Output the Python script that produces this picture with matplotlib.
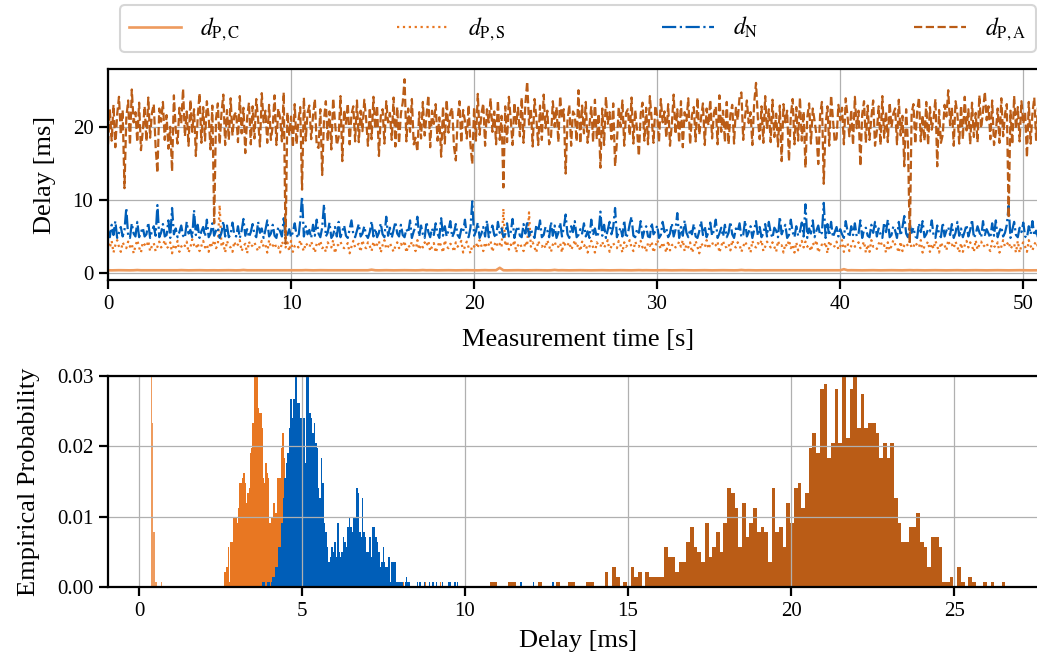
import numpy as np
import matplotlib
matplotlib.use("Agg")
import matplotlib.pyplot as plt

plt.rcParams.update({
    "font.family": "serif",
    "font.serif": ["Liberation Serif", "DejaVu Serif"],
    "mathtext.fontset": "stix",
    "font.size": 15,
})

# ---------------------------------------------------------------- time series
SAMPLE_STEP = 0.1  # s between samples of d_pa, d_n, d_ps
PC_STEP = 0.2      # s between samples of d_pc

d_pa = [
    17.6, 22.4, 18.1, 23.0, 17.2, 21.7, 24.1, 18.9, 22.3, 11.6,
    21.2, 23.6, 17.5, 25.1, 20.6, 22.0, 17.9, 23.3, 16.8, 19.4,
    22.8, 18.0, 24.0, 18.5, 21.9, 23.1, 17.3, 13.7, 22.5, 20.7,
    23.4, 18.2, 21.6, 17.0, 20.0, 13.9, 24.3, 19.6, 17.7, 22.6,
    20.4, 25.2, 18.7, 22.1, 17.4, 23.7, 19.3, 22.4, 16.0, 21.3,
    24.6, 17.8, 22.7, 18.1, 23.5, 21.4, 16.9, 22.9, 6.8, 21.1,
    23.2, 17.6, 21.9, 24.4, 17.5, 22.3, 18.2, 23.9, 18.8, 21.6,
    22.0, 17.9, 24.2, 19.1, 22.6, 16.4, 21.2, 23.3, 17.6, 22.8,
    18.4, 23.8, 21.0, 17.3, 24.6, 20.6, 22.2, 17.8, 23.0, 18.2,
    20.1, 24.3, 17.5, 22.5, 21.3, 18.0, 24.7, 4.0, 22.0, 18.9,
    21.4, 17.2, 23.1, 17.6, 20.8, 22.7, 11.4, 24.0, 18.1, 21.9,
    22.9, 18.3, 21.5, 23.8, 17.4, 17.1, 22.4, 13.4, 21.0, 23.5,
    18.0, 22.1, 16.9, 23.9, 20.7, 17.5, 18.6, 24.2, 15.3, 22.3,
    20.4, 23.2, 17.6, 21.7, 22.8, 18.0, 23.6, 17.9, 22.2, 19.4,
    23.7, 21.1, 17.4, 22.6, 18.3, 24.1, 19.7, 22.9, 16.0, 21.5,
    22.4, 17.7, 23.5, 20.6, 21.9, 18.2, 24.0, 17.3, 22.7, 17.7,
    21.8, 23.3, 26.5, 18.0, 22.5, 19.3, 23.8, 17.6, 18.5, 16.6,
    22.0, 18.4, 23.4, 18.8, 21.6, 24.3, 17.2, 22.2, 20.4, 23.1,
    18.1, 21.3, 15.9, 22.8, 17.7, 23.7, 19.2, 21.9, 22.6, 17.3,
    15.4, 21.1, 23.5, 17.8, 22.3, 20.8, 18.4, 23.0, 17.5, 14.9,
    22.7, 18.1, 24.5, 18.9, 21.8, 23.2, 17.4, 22.4, 20.6, 23.9,
    19.3, 22.1, 17.6, 23.6, 18.2, 21.5, 11.7, 22.8, 17.9, 24.1,
    21.0, 17.5, 23.3, 20.4, 22.6, 18.7, 24.0, 17.8, 23.1, 26.2,
    20.3, 22.5, 17.3, 23.8, 21.2, 17.5, 22.9, 18.2, 24.4, 19.8,
    22.2, 17.6, 18.6, 23.5, 20.0, 22.7, 17.9, 24.2, 21.1, 22.4,
    13.6, 20.8, 23.0, 17.4, 22.1, 21.6, 18.0, 25.0, 17.7, 22.9,
    19.1, 23.4, 17.8, 20.2, 22.8, 17.9, 23.7, 18.3, 21.8, 14.4,
    22.5, 17.5, 24.1, 20.4, 22.0, 18.3, 23.2, 14.6, 17.9, 22.7,
    20.0, 23.6, 17.4, 21.9, 22.4, 18.8, 24.0, 17.7, 22.3, 19.6,
    16.0, 21.8, 23.3, 18.1, 22.6, 17.6, 24.2, 21.0, 17.8, 22.9,
    21.5, 17.9, 23.8, 20.6, 22.1, 18.5, 23.1, 17.4, 20.3, 24.4,
    19.0, 22.4, 17.8, 23.5, 17.2, 22.0, 20.8, 23.9, 17.6, 21.6,
    22.7, 18.0, 24.0, 18.9, 21.3, 23.2, 17.5, 22.5, 20.2, 23.7,
    18.4, 21.9, 22.8, 17.6, 24.3, 19.3, 22.2, 17.9, 23.4, 17.6,
    21.7, 23.0, 17.7, 22.6, 20.9, 24.1, 24.7, 18.2, 21.4, 23.6,
    20.5, 22.0, 17.5, 23.3, 26.0, 21.2, 18.3, 22.8, 17.8, 24.2,
    19.7, 22.4, 17.9, 23.7, 18.6, 21.8, 17.3, 22.9, 15.3, 23.1,
    20.6, 22.2, 15.3, 21.5, 23.8, 17.6, 22.7, 18.1, 24.0, 18.1,
    22.1, 14.4, 21.3, 23.2, 17.7, 22.5, 20.8, 18.9, 14.9, 21.6,
    23.4, 12.2, 20.2, 22.8, 17.4, 24.3, 21.1, 17.9, 18.4, 23.0,
    20.9, 22.6, 17.6, 23.9, 21.4, 18.7, 22.3, 17.5, 24.1, 19.8,
    22.2, 14.6, 21.7, 23.5, 17.8, 22.9, 18.2, 21.3, 23.6, 17.4,
    19.4, 22.8, 17.5, 24.2, 18.5, 22.1, 17.9, 23.3, 19.9, 21.8,
    22.5, 17.6, 23.7, 18.8, 21.5, 14.6, 22.4, 17.8, 4.1, 21.9,
    23.1, 17.7, 22.0, 24.0, 18.0, 21.6, 18.1, 23.4, 17.5, 22.7,
    19.6, 21.2, 23.8, 14.6, 22.3, 17.8, 18.9, 23.0, 21.4, 25.0,
    20.2, 22.6, 17.4, 23.5, 21.8, 17.7, 22.9, 18.3, 24.1, 19.5,
    22.4, 17.6, 23.3, 18.6, 21.9, 17.9, 24.3, 19.8, 22.1, 24.8,
    20.9, 22.8, 18.3, 23.6, 17.5, 19.2, 22.5, 17.8, 23.9, 18.7,
    21.7, 23.1, 7.5, 22.2, 17.6, 24.2, 19.7, 22.7, 18.0, 23.5,
    20.4, 22.0, 15.8, 23.4, 17.7, 21.8, 24.0, 18.2, 22.6, 19.9,
]

d_n = [
    5.8, 4.9, 6.6, 5.2, 7.1, 4.8, 5.5, 6.3, 5.0, 5.9,
    8.9, 5.1, 4.8, 6.8, 5.4, 5.0, 7.0, 4.9, 5.6, 6.2,
    5.0, 5.3, 6.9, 4.8, 5.7, 6.4, 5.1, 9.3, 4.9, 5.5,
    6.7, 5.0, 5.2, 7.2, 4.8, 8.9, 5.3, 6.1, 4.9, 5.6,
    6.5, 5.1, 4.8, 7.0, 5.4, 5.9, 4.9, 8.6, 5.2, 6.6,
    4.8, 5.7, 6.3, 5.0, 7.3, 4.9, 5.4, 6.8, 5.1, 5.8,
    6.2, 4.8, 5.5, 7.1, 5.0, 6.5, 4.9, 5.3, 6.9, 5.2,
    5.0, 6.4, 4.8, 5.8, 7.4, 5.1, 6.0, 4.9, 5.6, 6.7,
    5.3, 4.9, 7.0, 5.5, 6.1, 4.8, 5.9, 7.2, 5.0, 5.4,
    6.6, 5.1, 4.8, 6.3, 5.7, 5.0, 7.5, 4.9, 5.2, 6.0,
    4.9, 5.6, 6.8, 5.2, 4.8, 7.1, 10.5, 5.0, 6.4, 5.3,
    5.9, 4.8, 6.6, 5.1, 7.3, 5.4, 4.9, 6.2, 9.4, 5.0,
    5.5, 6.9, 4.8, 5.2, 6.3, 5.0, 7.0, 4.9, 5.7, 6.5,
    5.1, 4.8, 6.0, 7.2, 5.3, 4.9, 5.8, 6.7, 5.0, 5.4,
    6.4, 5.2, 4.8, 5.6, 7.1, 5.0, 6.1, 4.9, 5.5, 6.8,
    5.3, 4.9, 7.7, 5.1, 6.2, 4.8, 5.9, 7.0, 5.4, 5.0,
    6.6, 5.2, 4.9, 6.0, 5.5, 7.2, 4.8, 5.7, 6.3, 7.7,
    5.0, 6.5, 5.3, 4.8, 7.0, 5.6, 4.9, 6.1, 5.2, 6.8,
    5.4, 4.8, 7.5, 5.1, 6.4, 5.0, 5.8, 7.1, 4.9, 5.5,
    6.7, 5.2, 4.8, 6.0, 5.6, 7.3, 5.0, 4.9, 6.2, 9.8,
    5.1, 5.7, 6.9, 4.8, 5.4, 6.3, 5.0, 7.2, 4.9, 5.8,
    6.5, 5.2, 4.8, 7.0, 5.5, 6.1, 4.9, 5.3, 6.8, 5.0,
    5.6, 7.4, 4.8, 5.9, 6.4, 5.1, 4.9, 6.7, 5.4, 7.1,
    5.0, 6.0, 5.3, 4.8, 6.6, 5.7, 7.2, 4.9, 5.2, 6.3,
    5.8, 4.9, 7.0, 5.1, 6.5, 4.8, 5.5, 6.9, 5.0, 6.2,
    8.0, 5.3, 4.8, 6.4, 5.6, 7.1, 4.9, 5.2, 6.0, 5.4,
    6.8, 5.0, 5.7, 4.8, 7.3, 5.2, 6.1, 4.9, 5.5, 8.4,
    5.1, 6.6, 4.8, 5.9, 7.0, 5.3, 6.3, 8.9, 4.9, 5.6,
    6.2, 5.0, 7.2, 4.8, 5.4, 6.7, 7.7, 5.1, 4.9, 6.0,
    5.5, 7.1, 4.8, 5.8, 6.4, 5.0, 4.9, 6.9, 5.3, 5.7,
    6.5, 4.8, 5.2, 7.0, 5.6, 6.1, 4.9, 5.4, 6.8, 5.0,
    5.9, 8.2, 4.8, 6.3, 5.1, 7.2, 5.5, 4.9, 6.0, 5.3,
    6.7, 5.0, 4.8, 5.7, 7.1, 5.2, 6.4, 4.9, 5.6, 6.9,
    5.1, 5.8, 7.3, 4.8, 5.4, 6.2, 5.0, 6.6, 4.9, 5.5,
    7.0, 5.3, 4.8, 6.1, 5.7, 6.8, 4.9, 5.2, 7.2, 5.0,
    5.6, 6.4, 4.8, 5.9, 7.1, 5.1, 6.3, 4.9, 5.4, 6.7,
    5.0, 7.0, 5.5, 4.8, 6.2, 5.8, 4.9, 7.7, 5.3, 6.0,
    6.6, 4.8, 5.2, 7.3, 5.6, 4.9, 6.4, 5.1, 5.7, 6.9,
    5.0, 9.4, 4.8, 6.1, 5.4, 7.2, 4.9, 5.8, 6.5, 5.2,
    5.5, 9.6, 4.8, 6.7, 5.1, 7.0, 4.9, 5.6, 6.3, 5.0,
    6.0, 5.3, 4.8, 7.1, 5.7, 4.9, 6.4, 5.2, 6.8, 5.0,
    5.4, 7.2, 4.8, 5.9, 6.2, 5.1, 4.9, 6.6, 5.5, 7.0,
    5.0, 6.1, 5.3, 4.8, 6.9, 5.6, 7.3, 4.9, 5.2, 6.4,
    5.8, 4.8, 7.0, 5.1, 6.3, 7.8, 5.4, 4.9, 6.7, 5.5,
    6.2, 5.0, 4.8, 6.8, 5.6, 7.1, 4.9, 5.3, 6.0, 5.7,
    7.2, 5.1, 4.8, 6.5, 5.4, 4.9, 6.9, 5.0, 5.8, 6.3,
    5.2, 6.7, 4.8, 5.5, 7.0, 5.1, 6.1, 4.9, 5.7, 6.6,
    5.0, 5.9, 7.3, 4.8, 5.3, 6.4, 5.6, 4.9, 7.1, 5.2,
    6.0, 5.4, 4.8, 6.8, 5.1, 7.2, 4.9, 5.7, 6.3, 5.0,
    5.5, 6.6, 9.2, 4.8, 5.9, 7.0, 5.2, 4.9, 6.2, 5.6,
    6.9, 5.0, 4.8, 6.4, 5.3, 7.1, 5.1, 5.8, 4.9, 6.5,
]

d_ps = [
    4.1, 3.5, 4.4, 2.8, 3.8, 4.5, 3.6, 2.9, 4.2, 3.7,
    3.4, 4.3, 3.6, 4.0, 2.7, 3.7, 4.5, 3.5, 2.8, 4.2,
    3.9, 3.6, 4.4, 3.0, 3.7, 4.1, 3.0, 3.6, 4.3, 3.5,
    3.8, 4.5, 3.4, 3.6, 4.2, 2.7, 3.9, 3.5, 4.4, 2.9,
    3.6, 4.0, 3.7, 4.3, 2.8, 3.5, 4.6, 3.8, 3.4, 4.1,
    3.0, 3.7, 4.4, 3.5, 3.9, 2.9, 4.2, 3.6, 4.5, 3.4,
    3.8, 9.3, 3.6, 4.1, 2.8, 4.4, 3.7, 3.5, 2.9, 4.3,
    3.6, 3.9, 4.5, 3.0, 3.7, 4.0, 2.7, 4.3, 3.6, 3.8,
    4.2, 3.5, 3.0, 3.7, 4.4, 3.6, 3.9, 2.8, 4.5, 3.5,
    3.7, 4.1, 3.4, 3.6, 2.8, 4.3, 3.8, 3.5, 4.2, 3.0,
    4.4, 2.9, 3.7, 3.9, 3.5, 4.5, 3.6, 3.0, 4.1, 3.8,
    3.5, 4.3, 3.6, 2.8, 4.0, 3.7, 4.4, 3.4, 3.6, 2.9,
    4.2, 3.8, 3.5, 4.5, 2.7, 3.7, 3.9, 4.3, 3.6, 3.4,
    3.7, 4.1, 2.7, 3.6, 4.4, 3.5, 3.8, 4.0, 2.9, 4.5,
    3.6, 3.4, 4.2, 3.7, 3.0, 4.3, 3.5, 3.9, 4.4, 2.8,
    3.8, 4.5, 3.3, 3.6, 4.1, 3.5, 2.9, 3.7, 4.2, 3.4,
    4.0, 3.6, 4.4, 2.8, 3.8, 3.5, 4.3, 3.7, 3.0, 4.5,
    3.2, 3.9, 3.5, 4.2, 3.7, 4.4, 3.0, 3.6, 4.1, 2.8,
    3.5, 4.3, 3.7, 2.8, 4.5, 3.6, 3.4, 4.0, 3.8, 2.9,
    4.2, 3.6, 3.9, 4.4, 2.8, 3.7, 4.3, 3.5, 2.7, 3.8,
    3.6, 4.1, 3.4, 4.5, 3.7, 3.0, 4.2, 3.5, 3.9, 4.4,
    2.9, 3.8, 4.3, 3.6, 4.0, 3.5, 8.8, 3.7, 4.4, 3.2,
    3.9, 3.6, 4.5, 2.8, 3.8, 4.1, 3.5, 3.0, 4.3, 3.7,
    8.3, 3.6, 4.2, 3.5, 2.8, 4.4, 3.8, 3.6, 4.0, 3.4,
    4.5, 3.7, 2.9, 3.9, 4.3, 3.5, 3.6, 4.1, 2.8, 4.4,
    3.6, 3.8, 4.2, 3.2, 3.7, 4.5, 3.5, 3.9, 3.0, 4.3,
    3.7, 4.0, 2.8, 3.6, 4.4, 3.5, 2.8, 4.2, 3.8, 3.6,
    4.3, 3.5, 3.9, 4.5, 2.9, 3.7, 4.1, 3.6, 3.4, 4.4,
    3.8, 2.8, 4.2, 3.6, 3.9, 4.5, 3.5, 3.0, 4.3, 3.7,
    3.6, 4.4, 3.5, 3.8, 2.9, 4.1, 3.7, 4.3, 2.8, 3.6,
    4.5, 3.9, 3.3, 4.2, 3.6, 2.8, 4.4, 3.1, 3.8, 4.0,
    3.5, 3.7, 4.3, 3.6, 4.5, 3.0, 3.9, 3.5, 4.2, 2.8,
    3.4, 4.4, 3.6, 2.7, 4.1, 3.7, 3.5, 4.5, 3.3, 3.9,
    4.2, 3.6, 3.8, 4.3, 2.8, 3.7, 4.4, 3.5, 3.6, 4.0,
    3.1, 4.5, 3.7, 3.5, 4.2, 3.9, 2.9, 3.6, 4.3, 3.8,
    3.6, 2.8, 4.4, 3.7, 3.5, 4.1, 3.8, 4.5, 3.0, 3.6,
    4.3, 3.9, 3.5, 4.2, 3.6, 2.9, 4.4, 3.7, 3.8, 2.8,
    4.0, 3.6, 4.5, 3.4, 3.9, 2.8, 4.2, 3.1, 3.7, 4.4,
    3.5, 4.3, 3.6, 3.8, 3.0, 4.1, 3.7, 4.5, 2.8, 3.4,
    3.9, 3.6, 4.2, 2.7, 4.4, 3.8, 3.5, 3.7, 4.3, 3.2,
    3.6, 4.5, 2.9, 3.9, 4.1, 3.0, 3.7, 4.4, 3.6, 3.8,
    4.2, 3.4, 3.7, 4.3, 2.8, 3.9, 2.9, 4.5, 3.6, 3.7,
    3.3, 4.0, 4.4, 3.6, 3.8, 2.8, 4.2, 3.1, 3.7, 4.5,
    3.9, 3.5, 2.8, 4.3, 3.0, 3.8, 4.1, 3.7, 4.4, 3.4,
    3.6, 4.2, 3.8, 3.5, 4.5, 2.8, 3.7, 3.9, 4.3, 2.9,
    4.0, 3.3, 4.4, 3.7, 2.8, 4.2, 3.6, 3.8, 3.1, 4.5,
    3.7, 3.9, 3.4, 4.3, 3.6, 2.8, 4.1, 2.9, 3.8, 4.4,
    3.5, 4.2, 3.7, 2.9, 4.5, 3.2, 3.9, 4.3, 3.6, 3.8,
    4.1, 3.4, 3.0, 4.4, 3.7, 3.5, 4.2, 2.8, 3.6, 4.5,
    3.6, 3.9, 4.3, 3.3, 3.7, 4.0, 2.8, 4.4, 2.8, 3.8,
    4.2, 3.6, 2.9, 4.5, 3.7, 3.1, 3.9, 4.3, 3.6, 4.0,
]

d_pc = [
    0.38, 0.37, 0.38, 0.39, 0.38, 0.38, 0.37, 0.38, 0.41, 0.38, 0.38, 0.39, 0.37, 0.38, 0.38,
    0.38, 0.39, 0.37, 0.38, 0.38, 0.40, 0.38, 0.37, 0.38, 0.38, 0.39, 0.38, 0.37, 0.38, 0.38,
    0.37, 0.38, 0.38, 0.39, 0.38, 0.37, 0.38, 0.42, 0.38, 0.38, 0.37, 0.38, 0.39, 0.38, 0.38,
    0.38, 0.37, 0.38, 0.38, 0.39, 0.38, 0.38, 0.37, 0.38, 0.40, 0.38, 0.37, 0.38, 0.39, 0.38,
    0.38, 0.38, 0.37, 0.38, 0.39, 0.38, 0.38, 0.37, 0.38, 0.38, 0.39, 0.38, 0.46, 0.38, 0.37,
    0.38, 0.39, 0.38, 0.37, 0.38, 0.38, 0.39, 0.38, 0.38, 0.37, 0.38, 0.41, 0.38, 0.39, 0.38,
    0.37, 0.38, 0.38, 0.39, 0.38, 0.37, 0.38, 0.38, 0.39, 0.38, 0.38, 0.37, 0.38, 0.40, 0.38,
    0.38, 0.39, 0.72, 0.38, 0.37, 0.38, 0.38, 0.39, 0.38, 0.37, 0.38, 0.38, 0.39, 0.38, 0.38,
    0.37, 0.38, 0.43, 0.38, 0.39, 0.38, 0.37, 0.38, 0.38, 0.39, 0.38, 0.38, 0.37, 0.38, 0.38,
    0.39, 0.38, 0.37, 0.38, 0.38, 0.39, 0.38, 0.38, 0.37, 0.38, 0.40, 0.38, 0.39, 0.38, 0.37,
    0.38, 0.38, 0.39, 0.38, 0.37, 0.38, 0.38, 0.39, 0.38, 0.38, 0.37, 0.38, 0.38, 0.39, 0.38,
    0.37, 0.38, 0.38, 0.39, 0.38, 0.38, 0.37, 0.38, 0.42, 0.38, 0.39, 0.38, 0.37, 0.38, 0.38,
    0.38, 0.39, 0.38, 0.37, 0.38, 0.38, 0.39, 0.38, 0.38, 0.37, 0.38, 0.38, 0.39, 0.38, 0.37,
    0.38, 0.38, 0.39, 0.38, 0.37, 0.38, 0.53, 0.38, 0.39, 0.38, 0.38, 0.37, 0.38, 0.38, 0.39,
    0.38, 0.37, 0.38, 0.38, 0.39, 0.38, 0.38, 0.37, 0.38, 0.40, 0.38, 0.39, 0.38, 0.37, 0.38,
    0.38, 0.39, 0.38, 0.38, 0.37, 0.38, 0.38, 0.39, 0.38, 0.37, 0.38, 0.38, 0.39, 0.38, 0.38,
    0.37, 0.38, 0.38, 0.39, 0.38, 0.38, 0.37, 0.38, 0.38, 0.39, 0.38, 0.38, 0.37, 0.38, 0.38,
]

t = np.arange(len(d_pa)) * SAMPLE_STEP
t_pc = np.arange(len(d_pc)) * PC_STEP

# ---------------------------------------------------------------- histograms
N_SAMPLES = 1418  # samples per series

pc_start, pc_width = 0.36, 0.04
pc_counts = [1371, 33, 11, 1, 1, 0, 0, 0, 1]

ps_start, ps_width = 2.60, 0.04
ps_counts = [3, 3, 4, 8, 1, 9, 9, 14, 14, 14, 13, 16, 21, 21, 22, 23, 21, 17, 19, 20,
             27, 28, 33, 45, 48, 45, 36, 35, 35, 32, 22, 21, 25, 23, 22, 13, 14, 14, 17, 15,
             15, 22, 22, 22, 28, 31, 26, 17, 12, 8, 6, 4, 3, 2, 1]
ps_outliers = [8.10, 8.77, 9.23]

n_start, n_width = 3.78, 0.045
n_counts = [1, 1, 0, 1, 1, 0, 1, 2, 2, 4, 4, 8, 8, 13, 18, 22, 25, 27, 32, 38,
            34, 38, 46, 46, 37, 37, 34, 36, 34, 25, 46, 46, 35, 34, 31, 33, 29, 28, 20, 18,
            26, 21, 13, 11, 8, 5, 6, 8, 7, 9, 6, 13, 7, 6, 7, 10, 9, 8, 12, 14,
            12, 11, 14, 14, 20, 19, 11, 10, 18, 11, 10, 7, 7, 10, 6, 12, 12, 10, 9, 7,
            4, 5, 8, 5, 4, 4, 6, 1, 5, 5, 5, 1, 1, 1, 1, 1, 0, 0, 2, 1, 1]
n_outliers = [8.16, 8.26, 8.52, 8.60, 8.73, 8.88, 8.99, 9.11, 9.29, 9.49, 9.54,
              9.67, 9.75, 11.69, 12.08, 12.68]

pa_start, pa_width = 10.755, 0.1138
pa_counts = [1, 1, 0, 0, 0, 1, 1, 0, 0, 0, 0, 0, 0, 1, 0, 0, 0, 0, 1, 0,
             0, 1, 1, 0, 0, 0, 1, 1, 0, 0, 0, 3, 0, 4, 2, 0, 1, 0, 4, 2,
             3, 0, 3, 2, 2, 2, 2, 8, 6, 6, 3, 5, 5, 9,
             12, 8, 7, 5, 13, 6, 8, 11, 7, 13, 20, 19, 16, 8, 17, 10, 13, 16, 11, 12,
             11, 5, 20, 11, 12, 8, 17, 13, 20, 21, 16, 19, 28, 31, 27, 40, 41, 26, 29, 40,
             29, 45, 30, 40, 45, 32, 39, 32, 33, 33, 31, 26, 29, 26, 29, 18, 13, 9, 9, 12,
             12, 15, 9, 8, 4, 10, 10, 8, 1, 1, 2, 0, 4, 1, 0, 2, 1, 0, 0, 1,
             0, 1, 0, 0, 1]

labels = [r"$d_{\mathrm{P,C}}$", r"$d_{\mathrm{P,S}}$", r"$d_{\mathrm{N}}$", r"$d_{\mathrm{P,A}}$"]
C_PC, C_PS, C_N, C_PA = "#EE9B5E", "#E87722", "#005EB8", "#BA5C16"

W, H = 1037, 661
fig = plt.figure(figsize=(W / 100, H / 100), dpi=100)
ax1 = fig.add_axes([108 / W, 1 - 280 / H, (1048 - 108) / W, 211 / H])
ax2 = fig.add_axes([108 / W, 1 - 587 / H, (1048 - 108) / W, 211 / H])

LW = 1.6
ax1.plot(t_pc, d_pc, color=C_PC, lw=1.9, ls="-", label=labels[0])
ax1.plot(t, d_ps, color=C_PS, lw=LW, ls=":", label=labels[1])
ax1.plot(t, d_n, color=C_N, lw=LW, ls="-.", label=labels[2])
ax1.plot(t, d_pa, color=C_PA, lw=LW, ls="--", label=labels[3])
ax1.set_xlim(0, 51.35)
ax1.set_ylim(-0.95, 27.9)
ax1.set_xticks([0, 10, 20, 30, 40, 50])
ax1.set_yticks([0, 10, 20])
ax1.set_xlabel("Measurement time [s]", fontsize=19, labelpad=11)
ax1.set_ylabel("Delay [ms]", fontsize=19, labelpad=12)


def draw_hist(ax, start, width, counts, color):
    counts = np.asarray(counts, dtype=float)
    edges = start + width * np.arange(len(counts) + 1)
    ax.stairs(counts / N_SAMPLES, edges, fill=True, color=color, lw=0)


def draw_singles(ax, positions, width, color):
    ax.bar(positions, [1.0 / N_SAMPLES] * len(positions), width=width,
           align="edge", color=color, lw=0)


draw_hist(ax2, pc_start, pc_width, pc_counts, C_PC)
draw_hist(ax2, ps_start, ps_width, ps_counts, C_PS)
draw_singles(ax2, ps_outliers, ps_width, C_PS)
draw_hist(ax2, n_start, n_width, n_counts, C_N)
draw_singles(ax2, n_outliers, n_width, C_N)
draw_hist(ax2, pa_start, pa_width, pa_counts, C_PA)
ax2.set_xlim(-0.95, 27.88)
ax2.set_ylim(0, 0.03)
ax2.set_xticks([0, 5, 10, 15, 20, 25])
ax2.set_yticks([0, 0.01, 0.02, 0.03])
ax2.yaxis.set_major_formatter(matplotlib.ticker.FormatStrFormatter("%.2f"))
ax2.set_xlabel("Delay [ms]", fontsize=19, labelpad=7)
ax2.set_ylabel("Empirical Probability", fontsize=19, labelpad=12)

for ax in (ax1, ax2):
    ax.grid(True, color="#b0b0b0", lw=0.9)
    for side in ("left", "bottom", "top"):
        ax.spines[side].set_linewidth(1.6)
    ax.spines["right"].set_visible(False)
    ax.tick_params(direction="out", length=6.5, width=1.6, labelsize=15, pad=4)

leg = fig.legend(loc="lower left", ncol=4, mode="expand", borderaxespad=0,
                 bbox_to_anchor=(120 / W, 1 - 52 / H, (1036 - 120) / W, 42 / H),
                 fontsize=17, handlelength=2.2, handletextpad=0.8, fancybox=True)
leg.get_frame().set_linewidth(1.5)

fig.savefig("out.png", dpi=100)
